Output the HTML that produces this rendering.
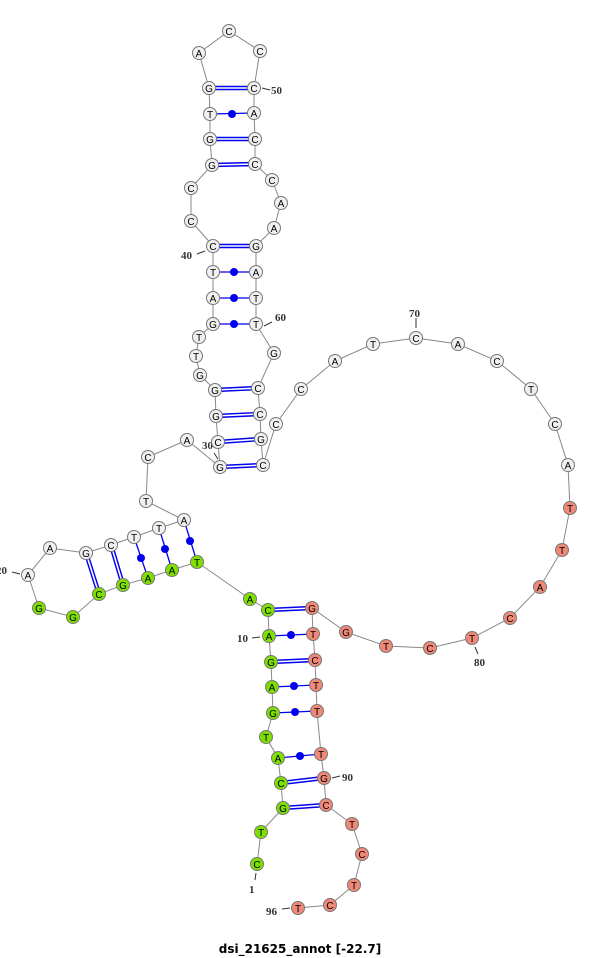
<!DOCTYPE html>
<html><head><meta charset="utf-8"><style>
html,body{margin:0;padding:0;background:#fff;}
svg{display:block;}
.n text{font-family:"Liberation Sans",sans-serif;font-size:10px;text-anchor:middle;}
.lb{font-family:"Liberation Serif",serif;font-size:11px;font-weight:bold;fill:#333;}
</style></head><body>
<svg width="600" height="958" viewBox="0 0 600 958" xmlns="http://www.w3.org/2000/svg">
<polyline fill="none" stroke="#888" stroke-width="1" points="257,864 261,832 283,808 281,783 278,758 266,737 273,713 272,687 271,662 269,636 268,610 250,599 197,562 172,570 148,578 123,585 99,594 73,617 39,608 28,575 50,548 86,553 111,545 134,537 159,528 184,520 146,501 148,457 187,440 220,467 218,442 216,416 215,390 200,375 196,356 199,337 213,324 213,298 213,272 213,246 191,221 191,188 212,165 210,139 210,114 209,88 199,53 229,31 260,51 254,88 254,113 255,139 255,164 272,180 281,203 274,228 256,246 256,272 256,298 256,324 274,353 258,388 260,414 261,439 263,465 276,424 301,389 335,361 373,344 416,338 458,344 497,361 531,389 555,424 568,465 570,508 562,550 540,587 510,618 472,638 430,648 386,646 346,632 312,608 313,634 315,660 316,685 317,711 321,754 324,778 326,805 352,824 362,854 354,885 330,905 298,908"/>
<!-- double (GC) pairs -->
<g stroke="#0000ee" stroke-width="4.5">
<line x1="283" y1="808" x2="326" y2="805"/><line x1="281" y1="783" x2="324" y2="778"/>
<line x1="271" y1="662" x2="315" y2="660"/><line x1="268" y1="610" x2="312" y2="608"/>
<line x1="123" y1="585" x2="111" y2="545"/><line x1="99" y1="594" x2="86" y2="553"/>
<line x1="220" y1="467" x2="263" y2="465"/><line x1="218" y1="442" x2="261" y2="439"/>
<line x1="216" y1="416" x2="260" y2="414"/><line x1="215" y1="390" x2="258" y2="388"/>
<line x1="213" y1="246" x2="256" y2="246"/><line x1="212" y1="165" x2="255" y2="164"/>
<line x1="210" y1="139" x2="255" y2="139"/><line x1="209" y1="88" x2="254" y2="88"/>
</g>
<g stroke="#fff" stroke-width="1.6">
<line x1="283" y1="808" x2="326" y2="805"/><line x1="281" y1="783" x2="324" y2="778"/>
<line x1="271" y1="662" x2="315" y2="660"/><line x1="268" y1="610" x2="312" y2="608"/>
<line x1="123" y1="585" x2="111" y2="545"/><line x1="99" y1="594" x2="86" y2="553"/>
<line x1="220" y1="467" x2="263" y2="465"/><line x1="218" y1="442" x2="261" y2="439"/>
<line x1="216" y1="416" x2="260" y2="414"/><line x1="215" y1="390" x2="258" y2="388"/>
<line x1="213" y1="246" x2="256" y2="246"/><line x1="212" y1="165" x2="255" y2="164"/>
<line x1="210" y1="139" x2="255" y2="139"/><line x1="209" y1="88" x2="254" y2="88"/>
</g>
<!-- dot (AT) pairs -->
<g stroke="#0000ee" stroke-width="1.3">
<line x1="278" y1="758" x2="321" y2="754"/><line x1="273" y1="713" x2="317" y2="711"/>
<line x1="272" y1="687" x2="316" y2="685"/><line x1="269" y1="636" x2="313" y2="634"/>
<line x1="197" y1="562" x2="184" y2="520"/><line x1="172" y1="570" x2="159" y2="528"/>
<line x1="148" y1="578" x2="134" y2="537"/>
<line x1="213" y1="324" x2="256" y2="324"/><line x1="213" y1="298" x2="256" y2="298"/>
<line x1="213" y1="272" x2="256" y2="272"/><line x1="210" y1="114" x2="254" y2="113"/>
</g>
<g fill="#0000ee">
<circle cx="300" cy="756" r="4"/><circle cx="295" cy="712" r="4"/><circle cx="294" cy="686" r="4"/><circle cx="291" cy="635" r="4"/>
<circle cx="190" cy="541" r="4"/><circle cx="165" cy="549" r="4"/><circle cx="141" cy="558" r="4"/>
<circle cx="234" cy="324" r="4"/><circle cx="234" cy="298" r="4"/><circle cx="234" cy="272" r="4"/><circle cx="232" cy="114" r="4"/>
</g>
<!-- label ticks -->
<g stroke="#333" stroke-width="1">
<line x1="262" y1="88" x2="270" y2="90"/><line x1="197" y1="254" x2="205" y2="251"/>
<line x1="264" y1="326" x2="272" y2="322"/><line x1="416" y1="318" x2="416" y2="328"/>
<line x1="214" y1="453" x2="218" y2="459"/><line x1="12" y1="572" x2="20" y2="574"/>
<line x1="252" y1="638" x2="260" y2="637"/><line x1="475" y1="647" x2="478" y2="654"/>
<line x1="332" y1="778" x2="340" y2="776"/><line x1="256" y1="873" x2="255" y2="880"/>
<line x1="282" y1="909" x2="290" y2="908"/>
</g>
<g class="lb">
<text x="271" y="94">50</text><text x="181" y="259">40</text><text x="275" y="321">60</text>
<text x="409" y="317">70</text><text x="202" y="449">30</text><text x="-4" y="574">20</text>
<text x="237" y="642">10</text><text x="474" y="666">80</text><text x="342" y="781">90</text>
<text x="249" y="893">1</text><text x="266" y="915">96</text>
</g>
<g class="n" stroke="#777" stroke-width="1">
<g fill="#7ee000">
<circle cx="257" cy="864" r="6.5"/><circle cx="261" cy="832" r="6.5"/><circle cx="283" cy="808" r="6.5"/><circle cx="281" cy="783" r="6.5"/><circle cx="278" cy="758" r="6.5"/><circle cx="266" cy="737" r="6.5"/><circle cx="273" cy="713" r="6.5"/><circle cx="272" cy="687" r="6.5"/><circle cx="271" cy="662" r="6.5"/><circle cx="269" cy="636" r="6.5"/><circle cx="268" cy="610" r="6.5"/><circle cx="250" cy="599" r="6.5"/><circle cx="197" cy="562" r="6.5"/><circle cx="172" cy="570" r="6.5"/><circle cx="148" cy="578" r="6.5"/><circle cx="123" cy="585" r="6.5"/><circle cx="99" cy="594" r="6.5"/><circle cx="73" cy="617" r="6.5"/><circle cx="39" cy="608" r="6.5"/>
</g>
<g fill="#f0f0f0">
<circle cx="28" cy="575" r="6.5"/><circle cx="50" cy="548" r="6.5"/><circle cx="86" cy="553" r="6.5"/><circle cx="111" cy="545" r="6.5"/><circle cx="134" cy="537" r="6.5"/><circle cx="159" cy="528" r="6.5"/><circle cx="184" cy="520" r="6.5"/><circle cx="146" cy="501" r="6.5"/><circle cx="148" cy="457" r="6.5"/><circle cx="187" cy="440" r="6.5"/><circle cx="220" cy="467" r="6.5"/><circle cx="218" cy="442" r="6.5"/><circle cx="216" cy="416" r="6.5"/><circle cx="215" cy="390" r="6.5"/><circle cx="200" cy="375" r="6.5"/><circle cx="196" cy="356" r="6.5"/><circle cx="199" cy="337" r="6.5"/><circle cx="213" cy="324" r="6.5"/><circle cx="213" cy="298" r="6.5"/><circle cx="213" cy="272" r="6.5"/><circle cx="213" cy="246" r="6.5"/><circle cx="191" cy="221" r="6.5"/><circle cx="191" cy="188" r="6.5"/><circle cx="212" cy="165" r="6.5"/><circle cx="210" cy="139" r="6.5"/><circle cx="210" cy="114" r="6.5"/><circle cx="209" cy="88" r="6.5"/><circle cx="199" cy="53" r="6.5"/><circle cx="229" cy="31" r="6.5"/><circle cx="260" cy="51" r="6.5"/><circle cx="254" cy="88" r="6.5"/><circle cx="254" cy="113" r="6.5"/><circle cx="255" cy="139" r="6.5"/><circle cx="255" cy="164" r="6.5"/><circle cx="272" cy="180" r="6.5"/><circle cx="281" cy="203" r="6.5"/><circle cx="274" cy="228" r="6.5"/><circle cx="256" cy="246" r="6.5"/><circle cx="256" cy="272" r="6.5"/><circle cx="256" cy="298" r="6.5"/><circle cx="256" cy="324" r="6.5"/><circle cx="274" cy="353" r="6.5"/><circle cx="258" cy="388" r="6.5"/><circle cx="260" cy="414" r="6.5"/><circle cx="261" cy="439" r="6.5"/><circle cx="263" cy="465" r="6.5"/><circle cx="276" cy="424" r="6.5"/><circle cx="301" cy="389" r="6.5"/><circle cx="335" cy="361" r="6.5"/><circle cx="373" cy="344" r="6.5"/><circle cx="416" cy="338" r="6.5"/><circle cx="458" cy="344" r="6.5"/><circle cx="497" cy="361" r="6.5"/><circle cx="531" cy="389" r="6.5"/><circle cx="555" cy="424" r="6.5"/><circle cx="568" cy="465" r="6.5"/>
</g>
<g fill="#f08878">
<circle cx="570" cy="508" r="6.5"/><circle cx="562" cy="550" r="6.5"/><circle cx="540" cy="587" r="6.5"/><circle cx="510" cy="618" r="6.5"/><circle cx="472" cy="638" r="6.5"/><circle cx="430" cy="648" r="6.5"/><circle cx="386" cy="646" r="6.5"/><circle cx="346" cy="632" r="6.5"/><circle cx="312" cy="608" r="6.5"/><circle cx="313" cy="634" r="6.5"/><circle cx="315" cy="660" r="6.5"/><circle cx="316" cy="685" r="6.5"/><circle cx="317" cy="711" r="6.5"/><circle cx="321" cy="754" r="6.5"/><circle cx="324" cy="778" r="6.5"/><circle cx="326" cy="805" r="6.5"/><circle cx="352" cy="824" r="6.5"/><circle cx="362" cy="854" r="6.5"/><circle cx="354" cy="885" r="6.5"/><circle cx="330" cy="905" r="6.5"/><circle cx="298" cy="908" r="6.5"/>
</g>
<g fill="#000" stroke="none">
<text x="257" y="868">C</text><text x="261" y="836">T</text><text x="283" y="812">G</text><text x="281" y="787">C</text><text x="278" y="762">A</text><text x="266" y="741">T</text><text x="273" y="717">G</text><text x="272" y="691">A</text><text x="271" y="666">G</text><text x="269" y="640">A</text><text x="268" y="614">C</text><text x="250" y="603">A</text><text x="197" y="566">T</text><text x="172" y="574">A</text><text x="148" y="582">A</text><text x="123" y="589">G</text><text x="99" y="598">C</text><text x="73" y="621">G</text><text x="39" y="612">G</text>
<text x="28" y="579">A</text><text x="50" y="552">A</text><text x="86" y="557">G</text><text x="111" y="549">C</text><text x="134" y="541">T</text><text x="159" y="532">T</text><text x="184" y="524">A</text><text x="146" y="505">T</text><text x="148" y="461">C</text><text x="187" y="444">A</text><text x="220" y="471">G</text><text x="218" y="446">C</text><text x="216" y="420">G</text><text x="215" y="394">G</text><text x="200" y="379">G</text><text x="196" y="360">T</text><text x="199" y="341">T</text><text x="213" y="328">G</text><text x="213" y="302">A</text><text x="213" y="276">T</text><text x="213" y="250">C</text><text x="191" y="225">C</text><text x="191" y="192">C</text><text x="212" y="169">G</text><text x="210" y="143">G</text><text x="210" y="118">T</text><text x="209" y="92">G</text><text x="199" y="57">A</text><text x="229" y="35">C</text><text x="260" y="55">C</text><text x="254" y="92">C</text><text x="254" y="117">A</text><text x="255" y="143">C</text><text x="255" y="168">C</text><text x="272" y="184">C</text><text x="281" y="207">A</text><text x="274" y="232">A</text><text x="256" y="250">G</text><text x="256" y="276">A</text><text x="256" y="302">T</text><text x="256" y="328">T</text><text x="274" y="357">G</text><text x="258" y="392">C</text><text x="260" y="418">C</text><text x="261" y="443">G</text><text x="263" y="469">C</text><text x="276" y="428">C</text><text x="301" y="393">C</text><text x="335" y="365">A</text><text x="373" y="348">T</text><text x="416" y="342">C</text><text x="458" y="348">A</text><text x="497" y="365">C</text><text x="531" y="393">T</text><text x="555" y="428">C</text><text x="568" y="469">A</text>
<text x="570" y="512">T</text><text x="562" y="554">T</text><text x="540" y="591">A</text><text x="510" y="622">C</text><text x="472" y="642">T</text><text x="430" y="652">C</text><text x="386" y="650">T</text><text x="346" y="636">G</text><text x="312" y="612">G</text><text x="313" y="638">T</text><text x="315" y="664">C</text><text x="316" y="689">T</text><text x="317" y="715">T</text><text x="321" y="758">T</text><text x="324" y="782">G</text><text x="326" y="809">C</text><text x="352" y="828">T</text><text x="362" y="858">C</text><text x="354" y="889">T</text><text x="330" y="909">C</text><text x="298" y="912">T</text>
</g>
</g>
<text x="300" y="953" text-anchor="middle" style="font-family:'DejaVu Sans','Liberation Sans',sans-serif;font-size:12px;font-weight:bold;fill:#000">dsi_21625_annot [-22.7]</text>
</svg>
</body></html>
